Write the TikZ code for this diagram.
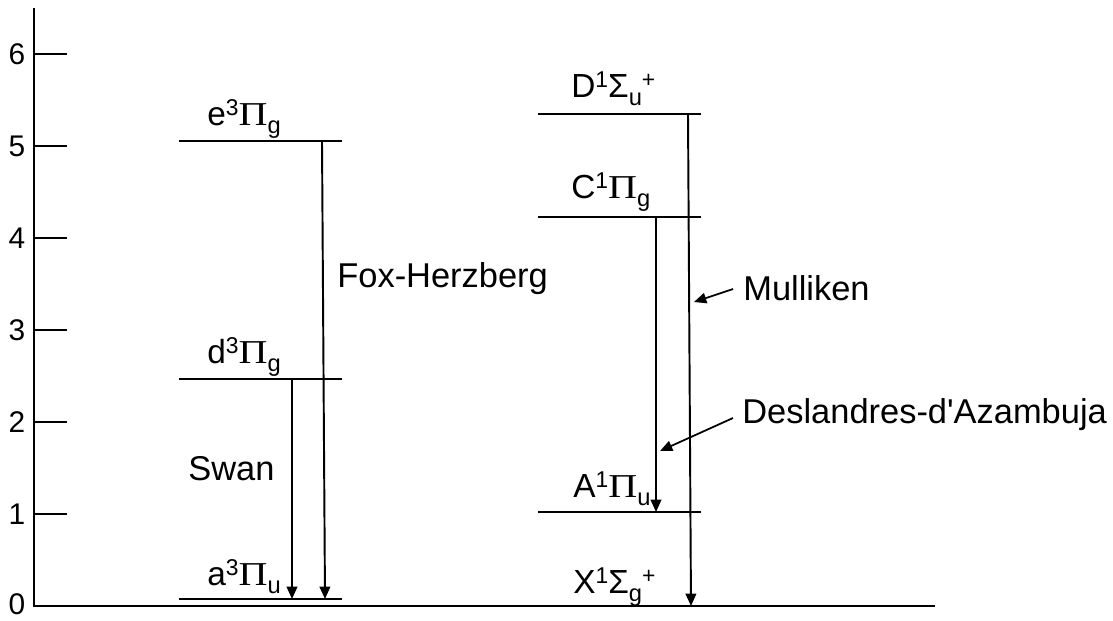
\documentclass[tikz,border=0pt]{standalone}
\usepackage{fontspec}
\setmainfont{Liberation Sans}
\newfontfamily\pigreek{Liberation Serif}
\newfontfamily\straightsans{Liberation Sans}[Ligatures=TeXOff]
\usetikzlibrary{arrows.meta}

\newcommand{\supx}[1]{\raisebox{5.5pt}{\fontsize{13}{14}\selectfont #1}}
\newcommand{\subx}[1]{\raisebox{-5pt}{\fontsize{13.5}{14}\selectfont #1}}
\newcommand{\molterm}[3]{#1\supx{#2}{\pigreek\scalebox{1.2}[1]{Π}}\subx{#3}}

\begin{document}
\begin{tikzpicture}[x=0.02cm, y=-0.02cm,
  level/.style={line width=1.4pt},
  trans/.style={-{Triangle[length=7pt,width=6pt]}, line width=1.1pt},
  pointer/.style={-{Triangle[length=7pt,width=6pt]}, line width=1pt},
  term/.style={anchor=base west, inner sep=0pt, font=\fontsize{19}{23}\selectfont},
  band/.style={anchor=base west, inner sep=0pt, font=\fontsize{19.6}{23}\selectfont},
  ticklab/.style={inner sep=0pt, font=\fontsize{17}{20}\selectfont}
]
\useasboundingbox (0,0) rectangle (1113,620);
% axes
\coordinate (ytop) at (34,8);
\coordinate (origin) at (34,606);
\coordinate (xend) at (935,606);
\draw[line width=1.6pt] (ytop) -- (origin) -- (xend);
\node[ticklab] (t0) at (17,604) {0};
\foreach \v in {1,...,6} {
  \draw[line width=1pt] (34,{606-92*\v}) -- (67,{606-92*\v});
  \node[ticklab] (t\v) at (17,{606-92*\v}) {\v};
}
% triplet levels
\coordinate (e-l) at (179,141); \coordinate (e-r) at (342,141);
\coordinate (d-l) at (179,379); \coordinate (d-r) at (342,379);
\coordinate (a-l) at (179,599); \coordinate (a-r) at (342,599);
\draw[level] (e-l) -- (e-r);
\draw[level] (d-l) -- (d-r);
\draw[level] (a-l) -- (a-r);
\node[term] (eterm) at (207,125) {\molterm{e}{3}{g}};
\node[term] (dterm) at (207,363) {\molterm{d}{3}{g}};
\node[term] (aterm) at (207,585) {\molterm{a}{3}{u}};
% singlet levels
\coordinate (D-l) at (538,114); \coordinate (D-r) at (701,114);
\coordinate (C-l) at (538,217); \coordinate (C-r) at (701,217);
\coordinate (A-l) at (538,512); \coordinate (A-r) at (701,512);
\draw[level] (D-l) -- (D-r);
\draw[level] (C-l) -- (C-r);
\draw[level] (A-l) -- (A-r);
\node[term] (Dterm) at (571,97) {D\supx{1}Σ\subx{u}\supx{+}};
\node[term] (Cterm) at (571,198) {\molterm{C}{1}{g}};
\node[term] (Aterm) at (573,497) {\molterm{A}{1}{u}};
\node[term] (Xterm) at (573,593) {X\supx{1}Σ\subx{g}\supx{+}};
% transitions
\coordinate (swan-top) at (292,379); \coordinate (swan-end) at (292,599);
\coordinate (fh-top) at (322,141); \coordinate (fh-end) at (325,599);
\coordinate (da-top) at (656,217); \coordinate (da-end) at (656,512);
\coordinate (mul-top) at (688,114); \coordinate (mul-end) at (691,606);
\draw[trans] (swan-top) -- (swan-end);
\draw[trans] (fh-top) -- (fh-end);
\draw[trans] (da-top) -- (da-end);
\draw[trans] (mul-top) -- (mul-end);
\node[band] (swan) at (188,480) {Swan};
\node[band] (foxherzberg) at (337,287) {Fox-Herzberg};
\node[band] (mulliken) at (743,300) {Mulliken};
\node[band] (deslandres) at (742,423) {Deslandres-d{\straightsans'}Azambuja};
% pointers
\coordinate (mul-from) at (733,289); \coordinate (mul-tip) at (694,302);
\coordinate (des-from) at (733,418); \coordinate (des-tip) at (660,451);
\draw[pointer] (mul-from) -- (mul-tip);
\draw[pointer] (des-from) -- (des-tip);
\end{tikzpicture}
\end{document}
